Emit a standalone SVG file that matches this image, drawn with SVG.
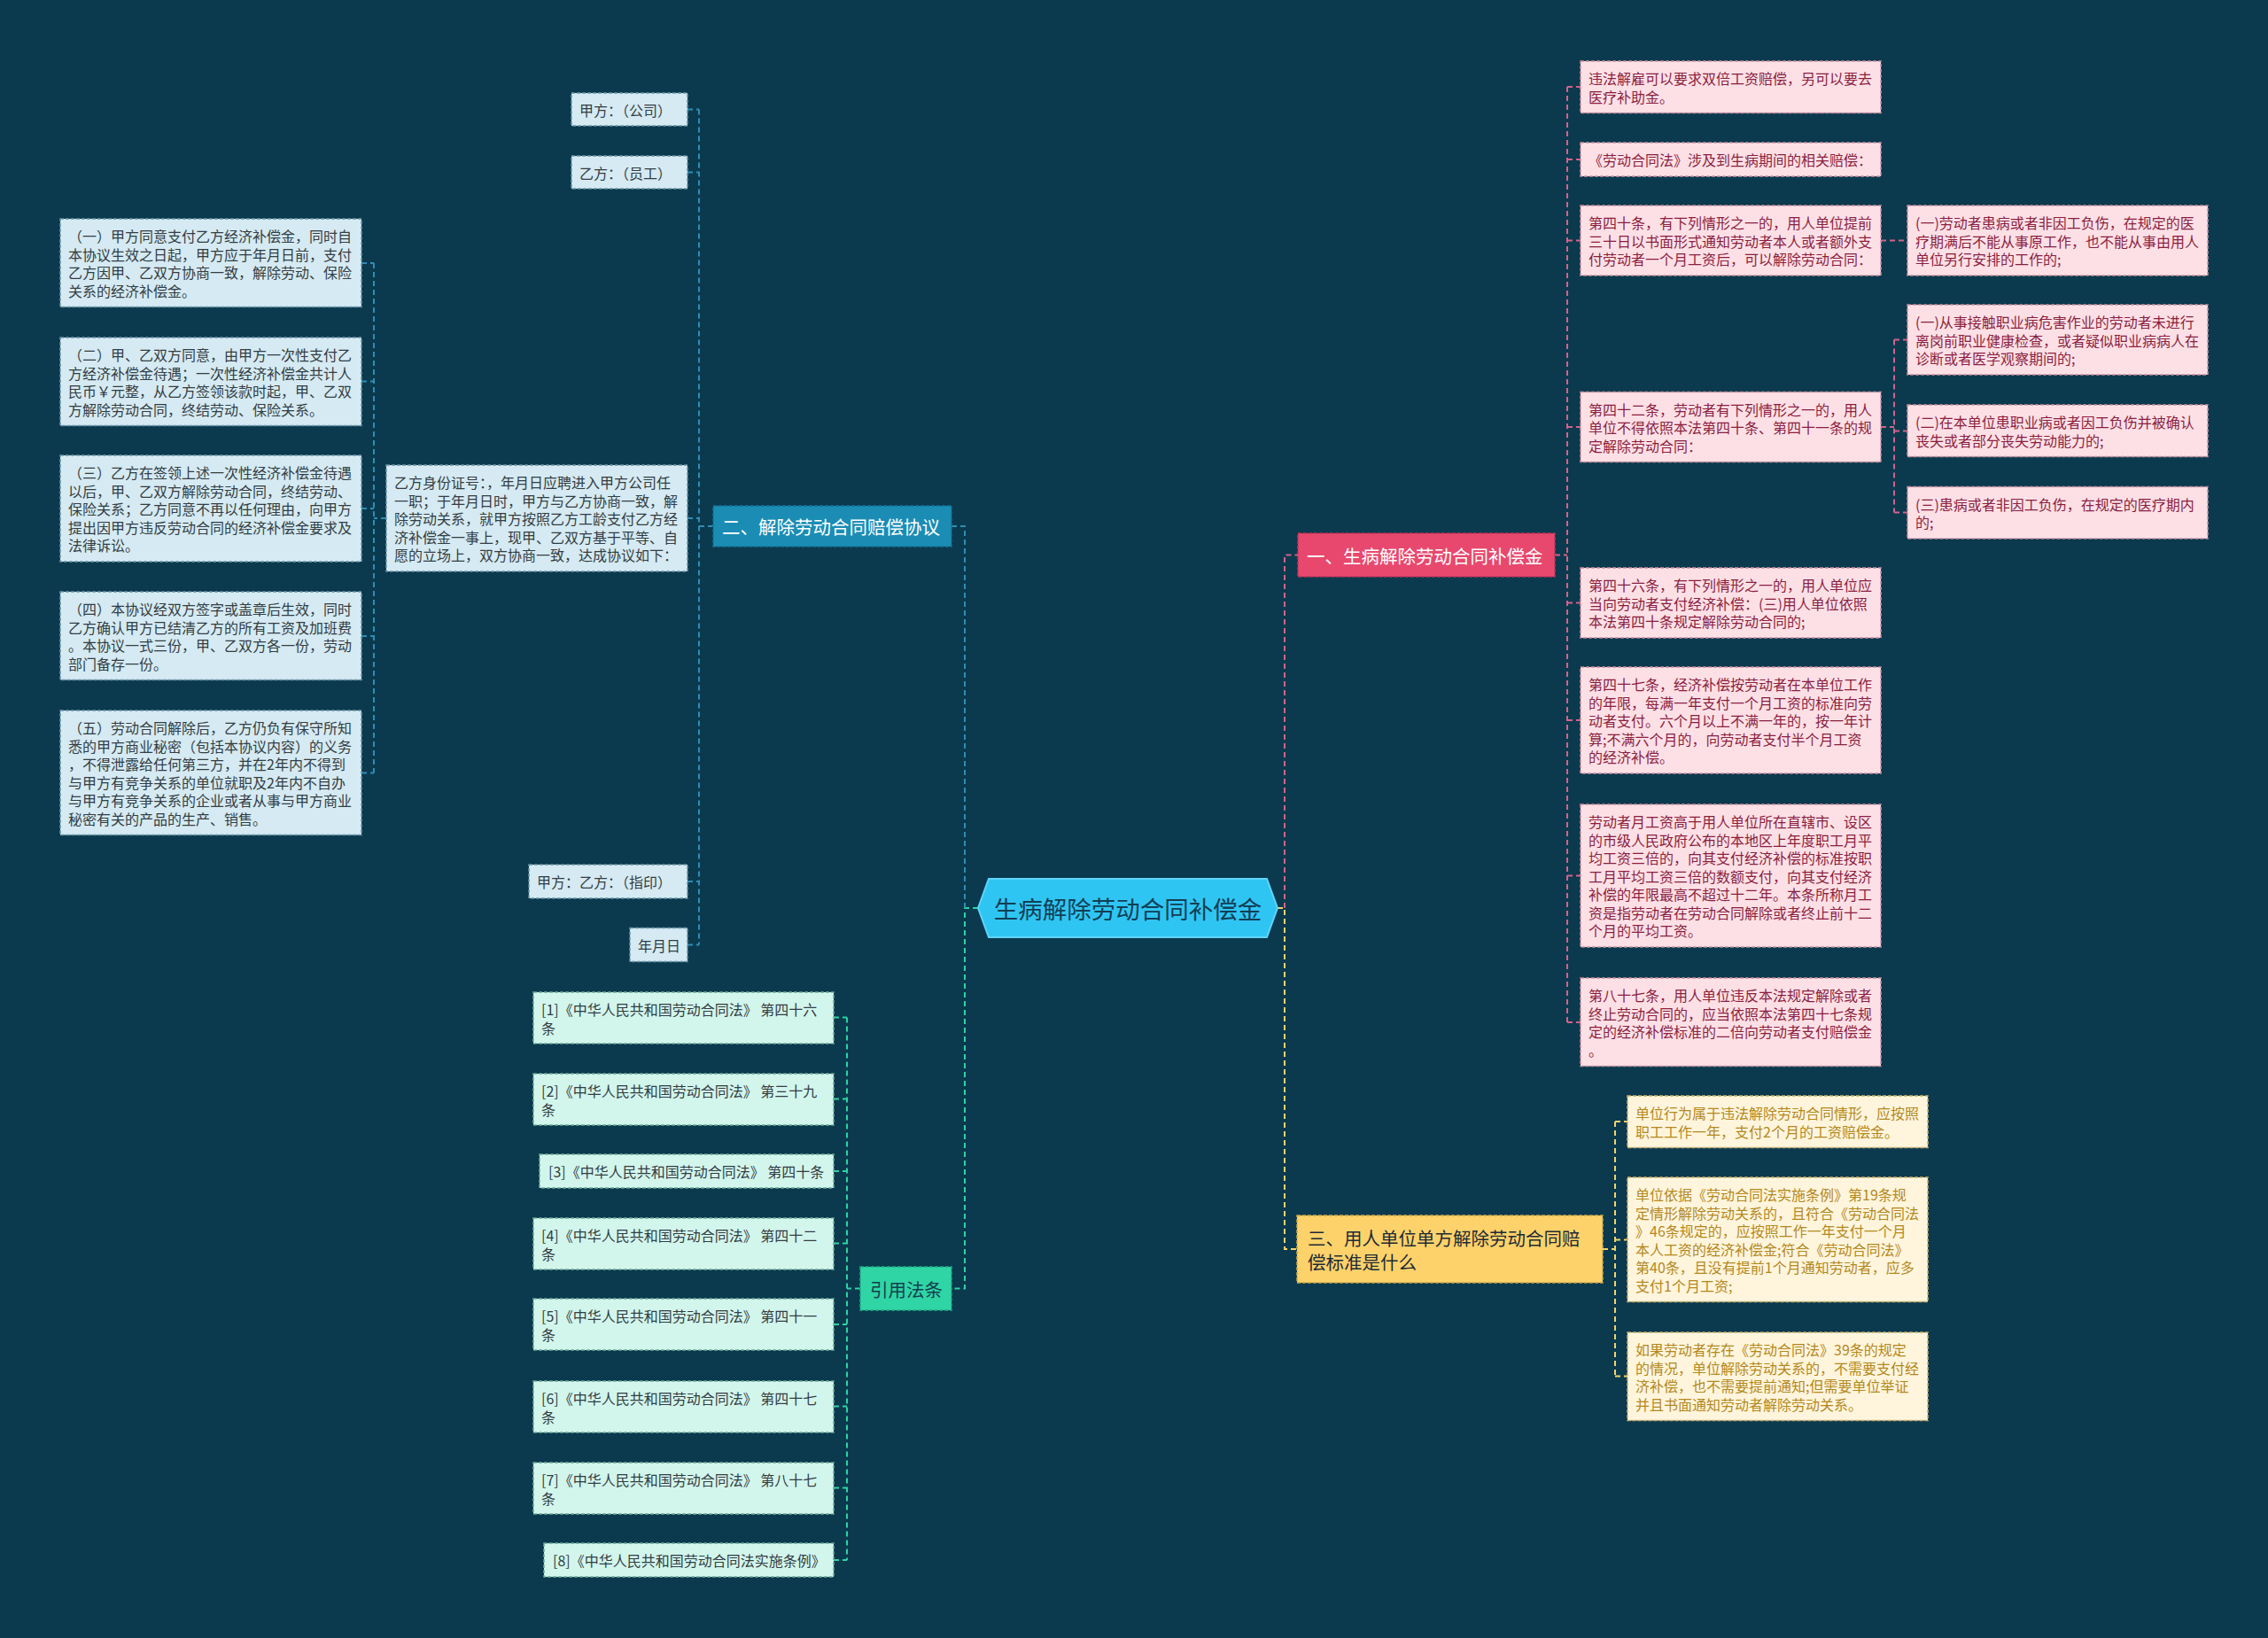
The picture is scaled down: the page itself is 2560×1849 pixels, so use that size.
<svg xmlns="http://www.w3.org/2000/svg" width="2560" height="1849" viewBox="0 0 2560 1849">
<style>
text{font-family:"Noto Sans CJK SC","Microsoft YaHei",sans-serif;dominant-baseline:central}
.t16{font-size:16px}
.lk{fill:none;stroke-width:2;stroke-dasharray:6 4}
.lp{stroke:#d4628a}.ly{stroke:#f3d26b}.lb{stroke:#2e8db4}.lg{stroke:#2fd2a5}
.np rect{fill:#fde0e6;stroke:#c98ea0;stroke-width:1.5;stroke-dasharray:4 2}
.np text{fill:#8a1f40}
.ny rect{fill:#fff5dc;stroke:#c9ae6a;stroke-width:1.5;stroke-dasharray:4 2}
.ny text{fill:#b3881e}
.nb rect{fill:#d5eaf2;stroke:#6c94a6;stroke-width:1.5;stroke-dasharray:4 2}
.nb text{fill:#333d44}
.ng rect{fill:#d2f6ec;stroke:#6fa99a;stroke-width:1.5;stroke-dasharray:4 2}
.ng text{fill:#333d44}
.br text{font-size:20.5px}
</style>
<rect width="2560" height="1849" fill="#0b3a4e"/>

<g id="connectors">
<path class="lk ly" d="M1442 1025H1450V1410H1464"/>
<path class="lk lp" d="M1450 1025V626.5H1465"/>
<path class="lk lg" d="M1104 1025H1089V1454.5H1074"/>
<path class="lk lb" d="M1089 1025V594H1074"/>
<path class="lk lp" d="M1755 626.5H1769M1769 98V1154M1769 98H1784M1769 180H1784M1769 271.5H1784M1769 482H1784M1769 680.5H1784M1769 813H1784M1769 988.5H1784M1769 1154H1784"/>
<path class="lk lp" d="M2123 271.5H2153M2123 482H2138M2138 383.5V578.5M2138 383.5H2153M2138 486.5H2153M2138 578.5H2153"/>
<path class="lk ly" d="M1809 1410H1823M1823 1266V1553.5M1823 1266H1837M1823 1399.5H1837M1823 1553.5H1837"/>
<path class="lk lb" d="M805 594H789M789 123.5V1066.5M776 123.5H789M776 194.5H789M776 585H789M776 995H789M776 1066.5H789"/>
<path class="lk lb" d="M436 585H422M422 297V872.5M408 297H422M408 430.5H422M408 574H422M408 718H422M408 872.5H422"/>
<path class="lk lg" d="M971 1454.5H956M956 1148.5V1761M941 1148.5H956M941 1240.5H956M941 1322H956M941 1403.5H956M941 1495H956M941 1587.5H956M941 1679.5H956M941 1761H956"/>
</g>

<g id="center">
<polygon points="1104,1025 1116,992 1430,992 1442,1025 1430,1058 1116,1058" fill="#2fc5f3" stroke="#5fd4f7" stroke-width="2"/>
<text x="1273" y="1025" text-anchor="middle" font-size="27.5" fill="#123f55">生病解除劳动合同补偿金</text>
</g>

<g id="branch1" class="br">
<rect x="1465" y="602" width="290" height="49" fill="#e8486e" stroke="#c23358" stroke-width="1.5" stroke-dasharray="4 2"/>
<text x="1475" y="626.5" fill="#ffffff">一、生病解除劳动合同补偿金</text>
</g>
<g id="branch2" class="br">
<rect x="805" y="571" width="269" height="46" fill="#1b8db5" stroke="#157096" stroke-width="1.5" stroke-dasharray="4 2"/>
<text x="815" y="594" fill="#ffffff">二、解除劳动合同赔偿协议</text>
</g>
<g id="branch3" class="br">
<rect x="1464" y="1372" width="345" height="76" fill="#fdd26a" stroke="#c9a645" stroke-width="1.5" stroke-dasharray="4 2"/>
<text fill="#1d2a36"><tspan x="1476" y="1397">三、用人单位单方解除劳动合同赔</tspan><tspan x="1476" y="1424">偿标准是什么</tspan></text>
</g>
<g id="branch4" class="br">
<rect x="971" y="1430" width="103" height="49" fill="#2fd5a5" stroke="#23a884" stroke-width="1.5" stroke-dasharray="4 2"/>
<text x="982" y="1454.5" fill="#13404f">引用法条</text>
</g>

<g id="p1" class="np t16"><rect x="1784" y="69" width="339" height="58.5"/><text><tspan x="1793" y="88">违法解雇可以要求双倍工资赔偿，另可以要去</tspan><tspan x="1793" y="108.5">医疗补助金。</tspan></text></g>
<g id="p2" class="np t16"><rect x="1784" y="161" width="339" height="38"/><text><tspan x="1793" y="180">《劳动合同法》涉及到生病期间的相关赔偿：</tspan></text></g>
<g id="p3" class="np t16"><rect x="1784" y="232" width="339" height="79"/><text><tspan x="1793" y="251">第四十条，有下列情形之一的，用人单位提前</tspan><tspan x="1793" y="271.5">三十日以书面形式通知劳动者本人或者额外支</tspan><tspan x="1793" y="292">付劳动者一个月工资后，可以解除劳动合同：</tspan></text></g>
<g id="p4" class="np t16"><rect x="1784" y="442.5" width="339" height="79"/><text><tspan x="1793" y="461.5">第四十二条，劳动者有下列情形之一的，用人</tspan><tspan x="1793" y="482">单位不得依照本法第四十条、第四十一条的规</tspan><tspan x="1793" y="502.5">定解除劳动合同：</tspan></text></g>
<g id="p5" class="np t16"><rect x="1784" y="641" width="339" height="79"/><text><tspan x="1793" y="660">第四十六条，有下列情形之一的，用人单位应</tspan><tspan x="1793" y="680.5">当向劳动者支付经济补偿：(三)用人单位依照</tspan><tspan x="1793" y="701">本法第四十条规定解除劳动合同的;</tspan></text></g>
<g id="p6" class="np t16"><rect x="1784" y="753" width="339" height="120"/><text><tspan x="1793" y="772">第四十七条，经济补偿按劳动者在本单位工作</tspan><tspan x="1793" y="792.5">的年限，每满一年支付一个月工资的标准向劳</tspan><tspan x="1793" y="813">动者支付。六个月以上不满一年的，按一年计</tspan><tspan x="1793" y="833.5">算;不满六个月的，向劳动者支付半个月工资</tspan><tspan x="1793" y="854">的经济补偿。</tspan></text></g>
<g id="p7" class="np t16"><rect x="1784" y="908" width="339" height="161"/><text><tspan x="1793" y="927">劳动者月工资高于用人单位所在直辖市、设区</tspan><tspan x="1793" y="947.5">的市级人民政府公布的本地区上年度职工月平</tspan><tspan x="1793" y="968">均工资三倍的，向其支付经济补偿的标准按职</tspan><tspan x="1793" y="988.5">工月平均工资三倍的数额支付，向其支付经济</tspan><tspan x="1793" y="1009">补偿的年限最高不超过十二年。本条所称月工</tspan><tspan x="1793" y="1029.5">资是指劳动者在劳动合同解除或者终止前十二</tspan><tspan x="1793" y="1050">个月的平均工资。</tspan></text></g>
<g id="p8" class="np t16"><rect x="1784" y="1104" width="339" height="99.5"/><text><tspan x="1793" y="1123">第八十七条，用人单位违反本法规定解除或者</tspan><tspan x="1793" y="1143.5">终止劳动合同的，应当依照本法第四十七条规</tspan><tspan x="1793" y="1164">定的经济补偿标准的二倍向劳动者支付赔偿金</tspan><tspan x="1793" y="1184.5">。</tspan></text></g>
<g id="p9" class="np t16"><rect x="2153" y="232" width="339" height="79"/><text><tspan x="2162" y="251">(一)劳动者患病或者非因工负伤，在规定的医</tspan><tspan x="2162" y="271.5">疗期满后不能从事原工作，也不能从事由用人</tspan><tspan x="2162" y="292">单位另行安排的工作的;</tspan></text></g>
<g id="p10" class="np t16"><rect x="2153" y="344" width="339" height="79"/><text><tspan x="2162" y="363">(一)从事接触职业病危害作业的劳动者未进行</tspan><tspan x="2162" y="383.5">离岗前职业健康检查，或者疑似职业病病人在</tspan><tspan x="2162" y="404">诊断或者医学观察期间的;</tspan></text></g>
<g id="p11" class="np t16"><rect x="2153" y="457" width="339" height="58.5"/><text><tspan x="2162" y="476">(二)在本单位患职业病或者因工负伤并被确认</tspan><tspan x="2162" y="496.5">丧失或者部分丧失劳动能力的;</tspan></text></g>
<g id="p12" class="np t16"><rect x="2153" y="549.5" width="339" height="58.5"/><text><tspan x="2162" y="568.5">(三)患病或者非因工负伤，在规定的医疗期内</tspan><tspan x="2162" y="589">的;</tspan></text></g>

<g id="y1" class="ny t16"><rect x="1837" y="1237" width="339" height="58.5"/><text><tspan x="1846" y="1256">单位行为属于违法解除劳动合同情形，应按照</tspan><tspan x="1846" y="1276.5">职工工作一年，支付2个月的工资赔偿金。</tspan></text></g>
<g id="y2" class="ny t16"><rect x="1837" y="1329" width="339" height="140.5"/><text><tspan x="1846" y="1348">单位依据《劳动合同法实施条例》第19条规</tspan><tspan x="1846" y="1368.5">定情形解除劳动关系的，且符合《劳动合同法</tspan><tspan x="1846" y="1389">》46条规定的，应按照工作一年支付一个月</tspan><tspan x="1846" y="1409.5">本人工资的经济补偿金;符合《劳动合同法》</tspan><tspan x="1846" y="1430">第40条，且没有提前1个月通知劳动者，应多</tspan><tspan x="1846" y="1450.5">支付1个月工资;</tspan></text></g>
<g id="y3" class="ny t16"><rect x="1837" y="1504" width="339" height="99.5"/><text><tspan x="1846" y="1523">如果劳动者存在《劳动合同法》39条的规定</tspan><tspan x="1846" y="1543.5">的情况，单位解除劳动关系的，不需要支付经</tspan><tspan x="1846" y="1564">济补偿，也不需要提前通知;但需要单位举证</tspan><tspan x="1846" y="1584.5">并且书面通知劳动者解除劳动关系。</tspan></text></g>

<g id="b1" class="nb t16"><rect x="645" y="105" width="131" height="37"/><text x="654" y="123.5">甲方：（公司）</text></g>
<g id="b2" class="nb t16"><rect x="645" y="176" width="131" height="37"/><text x="654" y="194.5">乙方：（员工）</text></g>
<g id="b3" class="nb t16"><rect x="436" y="525" width="340" height="120"/><text><tspan x="445" y="544">乙方身份证号：，年月日应聘进入甲方公司任</tspan><tspan x="445" y="564.5">一职；于年月日时，甲方与乙方协商一致，解</tspan><tspan x="445" y="585">除劳动关系，就甲方按照乙方工龄支付乙方经</tspan><tspan x="445" y="605.5">济补偿金一事上，现甲、乙双方基于平等、自</tspan><tspan x="445" y="626">愿的立场上，双方协商一致，达成协议如下：</tspan></text></g>
<g id="b4" class="nb t16"><rect x="597" y="976" width="179" height="38"/><text x="606" y="995">甲方：乙方：（指印）</text></g>
<g id="b5" class="nb t16"><rect x="711" y="1047.5" width="65" height="38"/><text x="720" y="1066.5">年月日</text></g>
<g id="b6" class="nb t16"><rect x="68" y="247" width="340" height="99.5"/><text><tspan x="77" y="266">（一）甲方同意支付乙方经济补偿金，同时自</tspan><tspan x="77" y="286.5">本协议生效之日起，甲方应于年月日前，支付</tspan><tspan x="77" y="307">乙方因甲、乙双方协商一致，解除劳动、保险</tspan><tspan x="77" y="327.5">关系的经济补偿金。</tspan></text></g>
<g id="b7" class="nb t16"><rect x="68" y="381" width="340" height="99.5"/><text><tspan x="77" y="400">（二）甲、乙双方同意，由甲方一次性支付乙</tspan><tspan x="77" y="420.5">方经济补偿金待遇；一次性经济补偿金共计人</tspan><tspan x="77" y="441">民币￥元整，从乙方签领该款时起，甲、乙双</tspan><tspan x="77" y="461.5">方解除劳动合同，终结劳动、保险关系。</tspan></text></g>
<g id="b8" class="nb t16"><rect x="68" y="514" width="340" height="120"/><text><tspan x="77" y="533">（三）乙方在签领上述一次性经济补偿金待遇</tspan><tspan x="77" y="553.5">以后，甲、乙双方解除劳动合同，终结劳动、</tspan><tspan x="77" y="574">保险关系；乙方同意不再以任何理由，向甲方</tspan><tspan x="77" y="594.5">提出因甲方违反劳动合同的经济补偿金要求及</tspan><tspan x="77" y="615">法律诉讼。</tspan></text></g>
<g id="b9" class="nb t16"><rect x="68" y="668" width="340" height="99.5"/><text><tspan x="77" y="687">（四）本协议经双方签字或盖章后生效，同时</tspan><tspan x="77" y="707.5">乙方确认甲方已结清乙方的所有工资及加班费</tspan><tspan x="77" y="728">。本协议一式三份，甲、乙双方各一份，劳动</tspan><tspan x="77" y="748.5">部门备存一份。</tspan></text></g>
<g id="b10" class="nb t16"><rect x="68" y="802" width="340" height="140.5"/><text><tspan x="77" y="821">（五）劳动合同解除后，乙方仍负有保守所知</tspan><tspan x="77" y="841.5">悉的甲方商业秘密（包括本协议内容）的义务</tspan><tspan x="77" y="862">，不得泄露给任何第三方，并在2年内不得到</tspan><tspan x="77" y="882.5">与甲方有竞争关系的单位就职及2年内不自办</tspan><tspan x="77" y="903">与甲方有竞争关系的企业或者从事与甲方商业</tspan><tspan x="77" y="923.5">秘密有关的产品的生产、销售。</tspan></text></g>

<g id="g1" class="ng t16"><rect x="602" y="1120" width="339" height="58"/><text><tspan x="611" y="1139">[1]《中华人民共和国劳动合同法》 第四十六</tspan><tspan x="611" y="1159.5">条</tspan></text></g>
<g id="g2" class="ng t16"><rect x="602" y="1212" width="339" height="58"/><text><tspan x="611" y="1231">[2]《中华人民共和国劳动合同法》 第三十九</tspan><tspan x="611" y="1251.5">条</tspan></text></g>
<g id="g3" class="ng t16"><rect x="609" y="1303" width="332" height="38"/><text x="619" y="1322">[3]《中华人民共和国劳动合同法》 第四十条</text></g>
<g id="g4" class="ng t16"><rect x="602" y="1375" width="339" height="58"/><text><tspan x="611" y="1394">[4]《中华人民共和国劳动合同法》 第四十二</tspan><tspan x="611" y="1414.5">条</tspan></text></g>
<g id="g5" class="ng t16"><rect x="602" y="1466" width="339" height="58"/><text><tspan x="611" y="1485">[5]《中华人民共和国劳动合同法》 第四十一</tspan><tspan x="611" y="1505.5">条</tspan></text></g>
<g id="g6" class="ng t16"><rect x="602" y="1559" width="339" height="58"/><text><tspan x="611" y="1578">[6]《中华人民共和国劳动合同法》 第四十七</tspan><tspan x="611" y="1598.5">条</tspan></text></g>
<g id="g7" class="ng t16"><rect x="602" y="1651" width="339" height="58"/><text><tspan x="611" y="1670">[7]《中华人民共和国劳动合同法》 第八十七</tspan><tspan x="611" y="1690.5">条</tspan></text></g>
<g id="g8" class="ng t16"><rect x="614" y="1742" width="327" height="38"/><text x="624" y="1761">[8]《中华人民共和国劳动合同法实施条例》</text></g>
</svg>
